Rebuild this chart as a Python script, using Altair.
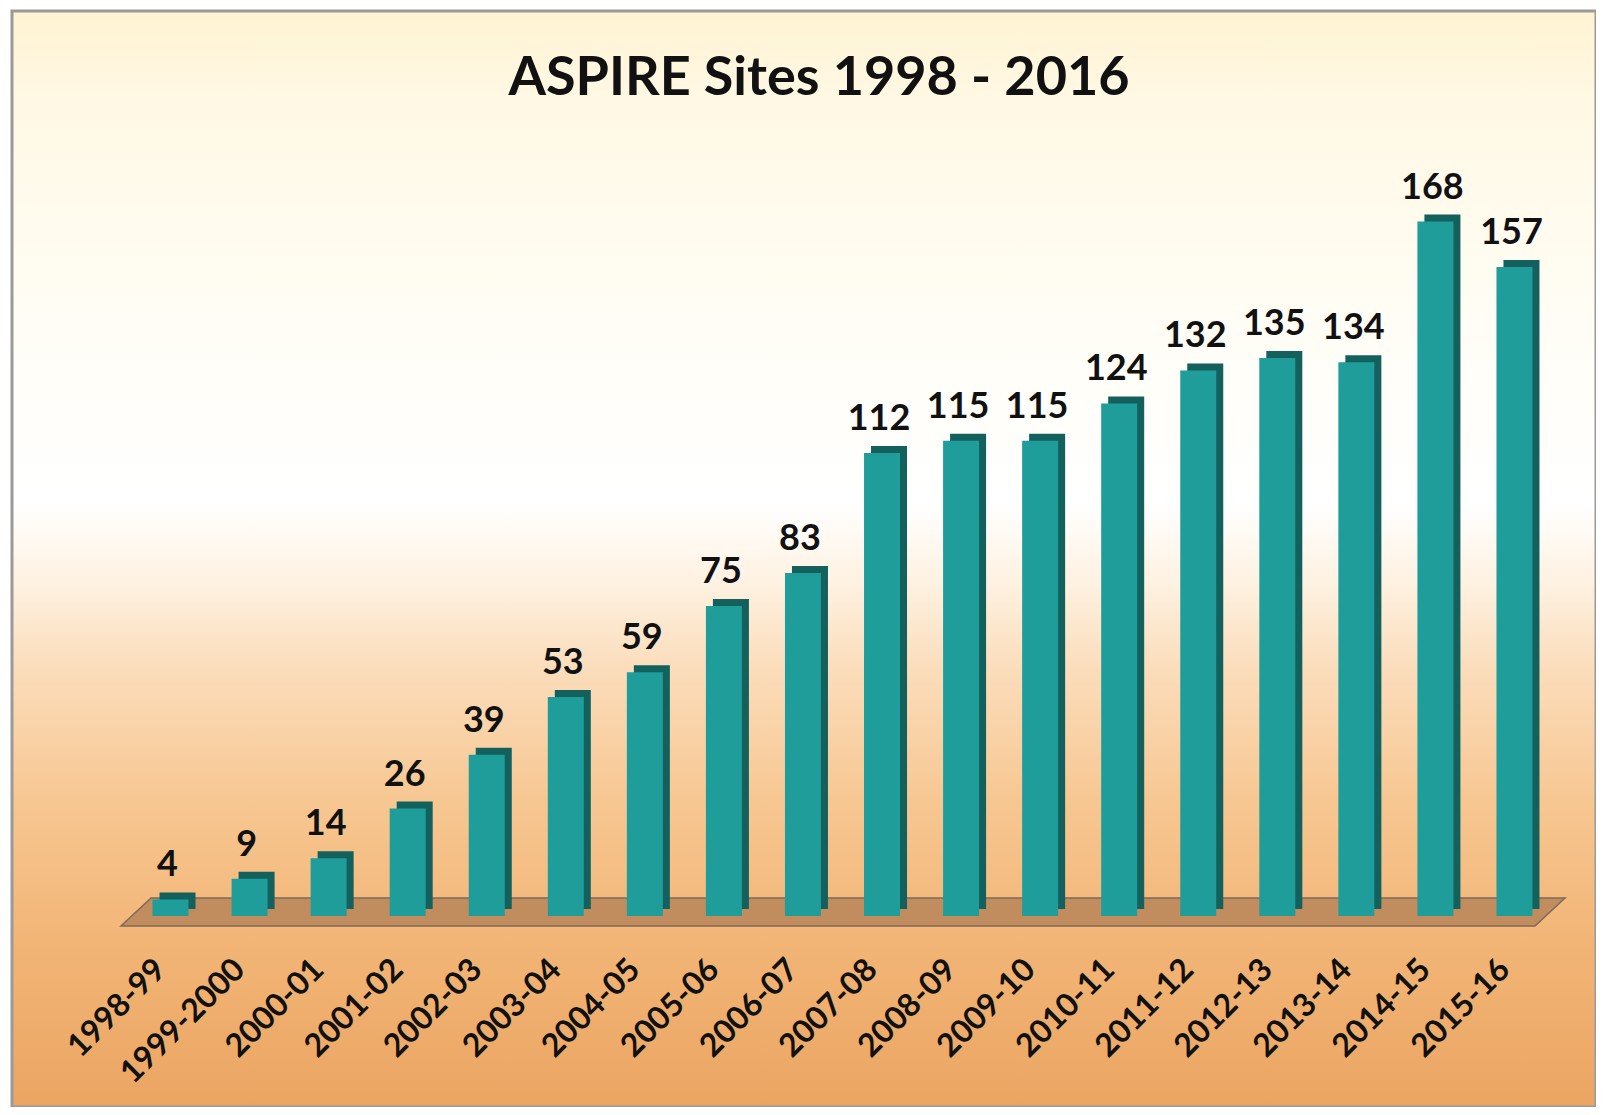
import altair as alt
import pandas as pd

title_text = "ASPIRE Sites 1998 - 2016"
years = ["1998-99", "1999-2000", "2000-01", "2001-02", "2002-03", "2003-04",
         "2004-05", "2005-06", "2006-07", "2007-08", "2008-09", "2009-10",
         "2010-11", "2011-12", "2012-13", "2013-14", "2014-15", "2015-16"]
sites = [4, 9, 14, 26, 39, 53, 59, 75, 83, 112, 115, 115, 124, 132, 135, 134, 168, 157]

df = pd.DataFrame({"Year": years, "Sites": sites})
one = pd.DataFrame({"t": [title_text]})

W, H = 1423, 744
PL, PT, PR, PB = 122, 164, 43, 191
FONT = "Lato"

x_enc = alt.X("Year:N", sort=years, title=None,
              scale=alt.Scale(paddingInner=0, paddingOuter=0),
              axis=alt.Axis(labelAngle=-45, labelAlign="right", labelBaseline="middle",
                            labelFont=FONT, labelFontSize=32, labelFontWeight="bold",
                            labelColor="#111111", labelPadding=48, labelOffset=-9,
                            domain=False, ticks=False, grid=False, labelOverlap=False,
                            zindex=5))
y_enc = alt.Y("Sites:Q", scale=alt.Scale(domain=[0, 180], nice=False), axis=None)

grad = alt.Gradient(
    gradient="linear", x1=0, x2=0, y1=0, y2=1,
    stops=[
        alt.GradientStop(color="#FFF3D2", offset=0.0),
        alt.GradientStop(color="#FFF8E4", offset=0.08),
        alt.GradientStop(color="#FFFDF5", offset=0.28),
        alt.GradientStop(color="#FFFFFF", offset=0.45),
        alt.GradientStop(color="#FEF2E2", offset=0.52),
        alt.GradientStop(color="#FBDDBB", offset=0.6),
        alt.GradientStop(color="#F7C792", offset=0.72),
        alt.GradientStop(color="#F2B576", offset=0.85),
        alt.GradientStop(color="#EBA563", offset=1.0),
    ])

background = alt.Chart(one).mark_rect(color=grad, stroke="#9A9A9A", strokeWidth=3).encode(
    x=alt.value(-PL + 4), x2=alt.value(W + PR),
    y=alt.value(-PT + 3), y2=alt.value(H + PB))

# floor: a flat parallelogram under the bars
floor_w = 1444
hh = 14 / (floor_w / 2)
sl = 30 / (floor_w / 2)
floor_path = (f"M {-1 + sl:.4f} {-hh:.4f} L 1 {-hh:.4f} "
              f"L {1 - sl:.4f} {hh:.4f} L -1 {hh:.4f} Z")
floor = alt.Chart(one).mark_point(shape=floor_path, filled=True, fill="#C28D5E",
                                  stroke="#7E6A58", strokeWidth=1.5, opacity=1,
                                  size=floor_w ** 2).encode(
    x=alt.value(713), y=alt.value(740))

base = alt.Chart(df).encode(x=x_enc, y=y_enc)

back = base.mark_bar(width=36, color="#13605D", xOffset=8, yOffset=-7)
front = base.mark_bar(width=36, color="#1F9D9A", xOffset=1)
labels = base.mark_text(font=FONT, fontSize=36, fontWeight="bold", color="#111111",
                        baseline="bottom", dy=-15, dx=-2).encode(text="Sites:Q")

title = alt.Chart(one).mark_text(font=FONT, fontSize=54, fontWeight="bold", color="#111111",
                                 align="center", baseline="alphabetic").encode(
    x=alt.value(689), y=alt.value(-77), text="t:N")

chart = alt.layer(background, floor, back, front, labels, title).properties(
    width=W, height=H,
    autosize=alt.AutoSizeParams(type="none"),
    padding={"left": PL, "top": PT, "right": PR, "bottom": PB},
).configure_view(stroke=None)

chart.save("out.html", embed_options={"renderer": "svg", "actions": False})
